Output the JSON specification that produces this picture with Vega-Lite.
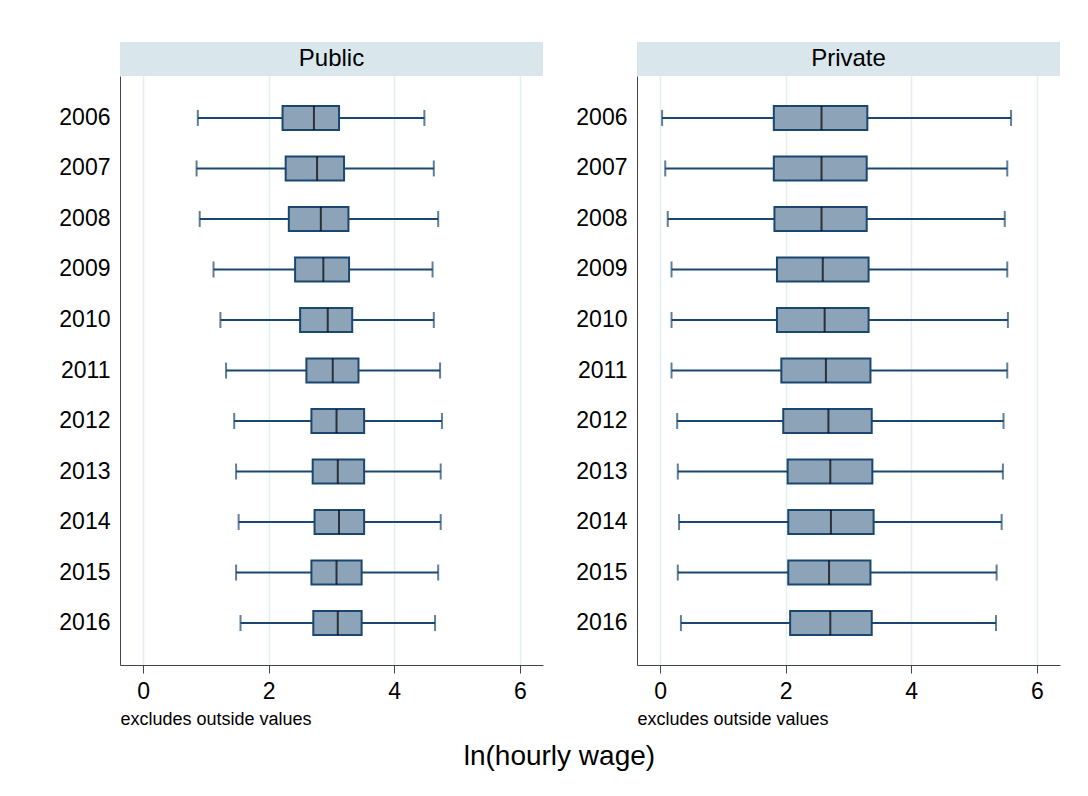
{
  "$schema": "https://vega.github.io/schema/vega-lite/v6.json",
  "padding": {"left": 58, "top": 42, "right": 5, "bottom": 5},
  "background": "white",
  "title": {
    "text": "ln(hourly wage)",
    "orient": "bottom",
    "anchor": "middle",
    "fontSize": 28,
    "fontWeight": "normal",
    "color": "#000000",
    "offset": 15
  },
  "datasets": {
    "wages": [
      {"sector": "Public", "year": 2006, "lo": 0.87, "q1": 2.22, "med": 2.72, "q3": 3.12, "hi": 4.48},
      {"sector": "Public", "year": 2007, "lo": 0.85, "q1": 2.27, "med": 2.77, "q3": 3.20, "hi": 4.63},
      {"sector": "Public", "year": 2008, "lo": 0.90, "q1": 2.32, "med": 2.83, "q3": 3.27, "hi": 4.70},
      {"sector": "Public", "year": 2009, "lo": 1.12, "q1": 2.42, "med": 2.87, "q3": 3.28, "hi": 4.61},
      {"sector": "Public", "year": 2010, "lo": 1.23, "q1": 2.50, "med": 2.94, "q3": 3.33, "hi": 4.63},
      {"sector": "Public", "year": 2011, "lo": 1.32, "q1": 2.60, "med": 3.02, "q3": 3.43, "hi": 4.73},
      {"sector": "Public", "year": 2012, "lo": 1.45, "q1": 2.68, "med": 3.08, "q3": 3.52, "hi": 4.76},
      {"sector": "Public", "year": 2013, "lo": 1.48, "q1": 2.70, "med": 3.10, "q3": 3.52, "hi": 4.74},
      {"sector": "Public", "year": 2014, "lo": 1.52, "q1": 2.73, "med": 3.12, "q3": 3.52, "hi": 4.74},
      {"sector": "Public", "year": 2015, "lo": 1.48, "q1": 2.68, "med": 3.08, "q3": 3.48, "hi": 4.70},
      {"sector": "Public", "year": 2016, "lo": 1.55, "q1": 2.71, "med": 3.10, "q3": 3.48, "hi": 4.65},
      {"sector": "Private", "year": 2006, "lo": 0.03, "q1": 1.81, "med": 2.57, "q3": 3.30, "hi": 5.59},
      {"sector": "Private", "year": 2007, "lo": 0.08, "q1": 1.81, "med": 2.57, "q3": 3.29, "hi": 5.53},
      {"sector": "Private", "year": 2008, "lo": 0.12, "q1": 1.82, "med": 2.57, "q3": 3.29, "hi": 5.49},
      {"sector": "Private", "year": 2009, "lo": 0.18, "q1": 1.86, "med": 2.59, "q3": 3.32, "hi": 5.53},
      {"sector": "Private", "year": 2010, "lo": 0.18, "q1": 1.86, "med": 2.62, "q3": 3.32, "hi": 5.54},
      {"sector": "Private", "year": 2011, "lo": 0.18, "q1": 1.93, "med": 2.64, "q3": 3.35, "hi": 5.53},
      {"sector": "Private", "year": 2012, "lo": 0.27, "q1": 1.96, "med": 2.68, "q3": 3.37, "hi": 5.47},
      {"sector": "Private", "year": 2013, "lo": 0.28, "q1": 2.03, "med": 2.71, "q3": 3.38, "hi": 5.46},
      {"sector": "Private", "year": 2014, "lo": 0.30, "q1": 2.04, "med": 2.72, "q3": 3.40, "hi": 5.44},
      {"sector": "Private", "year": 2015, "lo": 0.28, "q1": 2.04, "med": 2.69, "q3": 3.35, "hi": 5.36},
      {"sector": "Private", "year": 2016, "lo": 0.33, "q1": 2.07, "med": 2.71, "q3": 3.37, "hi": 5.35}
    ]
  },
  "spacing": 32,
  "hconcat": [
    {
      "spacing": 0,
      "bounds": "flush",
      "vconcat": [
        {
          "width": 423,
          "height": 34,
          "view": {"fill": "#d9e6ec", "stroke": null},
          "data": {"values": [{"sector": "Public"}]},
          "mark": {"type": "text", "fontSize": 24, "color": "#000000", "baseline": "middle", "align": "center"},
          "encoding": {"text": {"field": "sector"}}
        },
        {
          "width": 423,
          "height": 589,
          "view": {"stroke": null},
          "data": {"name": "wages"},
          "transform": [{"filter": "datum.sector === 'Public'"}],
          "encoding": {
            "y": {
              "field": "year",
              "type": "ordinal",
              "scale": {"paddingInner": 0, "paddingOuter": 0.33},
              "axis": {"title": null, "ticks": false, "labelPadding": 10, "labelFontSize": 23, "labelColor": "#000000", "domainColor": "#444444", "grid": false}
            }
          },
          "layer": [
            {
              "mark": {"type": "rule", "color": "#1a476f", "strokeWidth": 2},
              "encoding": {
                "x": {
                  "field": "lo", "type": "quantitative", "title": "excludes outside values",
                  "scale": {"domain": [-0.37, 6.37], "nice": false, "zero": false},
                  "axis": {"values": [0, 2, 4, 6], "format": "d"}
                },
                "x2": {"field": "hi"}
              }
            },
            {
              "mark": {"type": "tick", "color": "#1a476f", "size": 16, "thickness": 2},
              "encoding": {"x": {"field": "lo", "type": "quantitative", "title": "excludes outside values"}}
            },
            {
              "mark": {"type": "tick", "color": "#1a476f", "size": 16, "thickness": 2},
              "encoding": {"x": {"field": "hi", "type": "quantitative", "title": "excludes outside values"}}
            },
            {
              "mark": {"type": "bar", "fill": "#8da3b7", "stroke": "#1a476f", "strokeWidth": 2, "size": 24},
              "encoding": {
                "x": {"field": "q1", "type": "quantitative", "title": "excludes outside values"},
                "x2": {"field": "q3"}
              }
            },
            {
              "mark": {"type": "tick", "color": "#000000", "size": 24, "thickness": 2},
              "encoding": {"x": {"field": "med", "type": "quantitative", "title": "excludes outside values"}}
            }
          ]
        }
      ]
    },
    {
      "spacing": 0,
      "bounds": "flush",
      "vconcat": [
        {
          "width": 423,
          "height": 34,
          "view": {"fill": "#d9e6ec", "stroke": null},
          "data": {"values": [{"sector": "Private"}]},
          "mark": {"type": "text", "fontSize": 24, "color": "#000000", "baseline": "middle", "align": "center"},
          "encoding": {"text": {"field": "sector"}}
        },
        {
          "width": 423,
          "height": 589,
          "view": {"stroke": null},
          "data": {"name": "wages"},
          "transform": [{"filter": "datum.sector === 'Private'"}],
          "encoding": {
            "y": {
              "field": "year",
              "type": "ordinal",
              "scale": {"paddingInner": 0, "paddingOuter": 0.33},
              "axis": {"title": null, "ticks": false, "labelPadding": 10, "labelFontSize": 23, "labelColor": "#000000", "domainColor": "#444444", "grid": false}
            }
          },
          "layer": [
            {
              "mark": {"type": "rule", "color": "#1a476f", "strokeWidth": 2},
              "encoding": {
                "x": {
                  "field": "lo", "type": "quantitative", "title": "excludes outside values",
                  "scale": {"domain": [-0.37, 6.37], "nice": false, "zero": false},
                  "axis": {"values": [0, 2, 4, 6], "format": "d"}
                },
                "x2": {"field": "hi"}
              }
            },
            {
              "mark": {"type": "tick", "color": "#1a476f", "size": 16, "thickness": 2},
              "encoding": {"x": {"field": "lo", "type": "quantitative", "title": "excludes outside values"}}
            },
            {
              "mark": {"type": "tick", "color": "#1a476f", "size": 16, "thickness": 2},
              "encoding": {"x": {"field": "hi", "type": "quantitative", "title": "excludes outside values"}}
            },
            {
              "mark": {"type": "bar", "fill": "#8da3b7", "stroke": "#1a476f", "strokeWidth": 2, "size": 24},
              "encoding": {
                "x": {"field": "q1", "type": "quantitative", "title": "excludes outside values"},
                "x2": {"field": "q3"}
              }
            },
            {
              "mark": {"type": "tick", "color": "#000000", "size": 24, "thickness": 2},
              "encoding": {"x": {"field": "med", "type": "quantitative", "title": "excludes outside values"}}
            }
          ]
        }
      ]
    }
  ],
  "config": {
    "font": "Liberation Sans",
    "axisX": {
      "grid": true,
      "gridColor": "#e4edf1",
      "gridWidth": 1.5,
      "domainColor": "#444444",
      "tickColor": "#444444",
      "tickSize": 8,
      "labelFontSize": 23,
      "labelColor": "#000000",
      "labelPadding": 7,
      "titleFontSize": 18,
      "titleFontWeight": "normal",
      "titleColor": "#000000",
      "titleAnchor": "start",
      "titleAlign": "left",
      "titlePadding": 7
    }
  }
}
